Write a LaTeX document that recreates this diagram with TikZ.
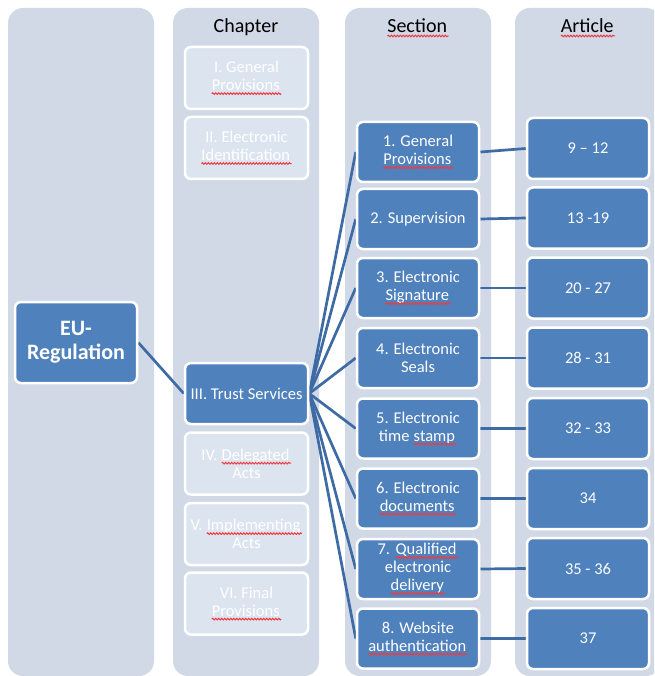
\documentclass[tikz,border=0pt]{standalone}
\usepackage{fontspec}
\setmainfont{Carlito}
\usetikzlibrary{decorations.pathmorphing}
\definecolor{bgcol}{HTML}{D1D9E7}
\definecolor{fadecol}{HTML}{DCE4F0}
\definecolor{bluecol}{HTML}{4F81BD}
\definecolor{linecol}{HTML}{3E6BA3}
\definecolor{sqred}{HTML}{F03C40}
\pgfdeclarelayer{back}
\pgfdeclarelayer{mid}
\pgfsetlayers{back,mid,main}
\newcommand\sq[1]{\tikz[baseline=(w.base)]{\node[draw=none,fill=none,inner sep=0pt,outer sep=0pt,rounded corners=0pt,minimum width=0pt,minimum height=0pt](w){#1};\draw[draw=sqred,fill=none,line width=1pt,rounded corners=0pt,decorate,decoration={snake,amplitude=0.8pt,segment length=3pt}]([yshift=-3pt]w.base west)--([yshift=-3pt,xshift=1.5pt]w.base east);}}
\begin{document}
\begin{tikzpicture}[x=1pt,y=-1pt,
  column/.style={fill=bgcol,rounded corners=15pt},
  bluebox/.style={draw=white,line width=2.5pt,fill=bluecol,rounded corners=6pt,text=white,align=center,font=\fontsize{16.5}{18}\selectfont,inner sep=0pt},
  fadebox/.style={bluebox,fill=fadecol},
  chapbox/.style={minimum width=123pt,minimum height=62pt},
  secbox/.style={bluebox,minimum width=122pt,minimum height=60pt},
  artbox/.style={bluebox,minimum width=122pt,minimum height=61pt},
  heading/.style={anchor=base,font=\fontsize{20}{22}\selectfont,text=black,inner sep=0pt},
  conn/.style={draw=linecol,line width=2.7pt}]
\useasboundingbox (0,0) rectangle (654,676);
\begin{pgfonlayer}{back}
\fill[white] (0,0) rectangle (654,676);
\begin{scope}
\clip (0,0) rectangle (654,676);
\fill[column] (8,8) rectangle (154,676);
\fill[column] (173,8) rectangle (319,676);
\fill[column] (345,8) rectangle (491,676);
\fill[column] (515,8) rectangle (661,676);
\end{scope}
\end{pgfonlayer}
% headings
\node[heading] (hch) at (246,33) {Chapter};
\node[heading] (hse) at (418,33) {\sq{Section}};
\node[heading] (har) at (588,33) {\sq{Article}};
% EU regulation
\node[bluebox,minimum width=122pt,minimum height=81pt,font=\bfseries\fontsize{22}{24}\selectfont] (eu) at (76,342.5) {EU-\\Regulation};
% chapters
\node[fadebox,chapbox] (c1) at (246.5,78) {I. General\\\sq{Provisions}};
\node[fadebox,chapbox] (c2) at (246.5,148) {II. Electronic\\\sq{Identification}};
\node[bluebox,chapbox,minimum height=61pt] (c3) at (246.5,393.5) {III. Trust Services};
\node[fadebox,chapbox] (c4) at (246.5,463.5) {IV. \sq{Delegated}\\Acts};
\node[fadebox,chapbox] (c5) at (246.5,534) {V. \sq{Implementing}\\Acts};
\node[fadebox,chapbox] (c6) at (246.5,603.5) {VI. Final\\\sq{Provisions}};
% sections
\node[secbox] (s1) at (418,152) {1. General\\\sq{Provisions}};
\node[secbox] (s2) at (418,219) {2. Supervision};
\node[secbox] (s3) at (418,288) {3. Electronic\\\sq{Signature}};
\node[secbox] (s4) at (418,358) {4. Electronic\\Seals};
\node[secbox] (s5) at (418,428.5) {5. Electronic\\time \sq{stamp}};
\node[secbox] (s6) at (418,498.5) {6. Electronic\\\sq{documents}};
\node[secbox] (s7) at (418,569) {7. \sq{Qualified}\\electronic\\\sq{delivery}};
\node[secbox] (s8) at (418,638.5) {8. Website\\\sq{authentication}};
% articles
\node[artbox] (a1) at (588,148.5) {9 – 12};
\node[artbox] (a2) at (588,218) {13 -19};
\node[artbox] (a3) at (588,288) {20 - 27};
\node[artbox] (a4) at (588,358) {28 - 31};
\node[artbox] (a5) at (588,428.5) {32 - 33};
\node[artbox] (a6) at (588,498.5) {34};
\node[artbox] (a7) at (588,568.5) {35 - 36};
\node[artbox] (a8) at (588,638.5) {37};
% connectors
\begin{pgfonlayer}{mid}
\draw[conn] (eu.east) -- (c3.west);
\foreach \i in {1,...,8} {
  \draw[conn] (c3.east) -- (s\i.west);
  \draw[conn] (s\i.east) -- (a\i.west);
}
\end{pgfonlayer}
\end{tikzpicture}
\end{document}
